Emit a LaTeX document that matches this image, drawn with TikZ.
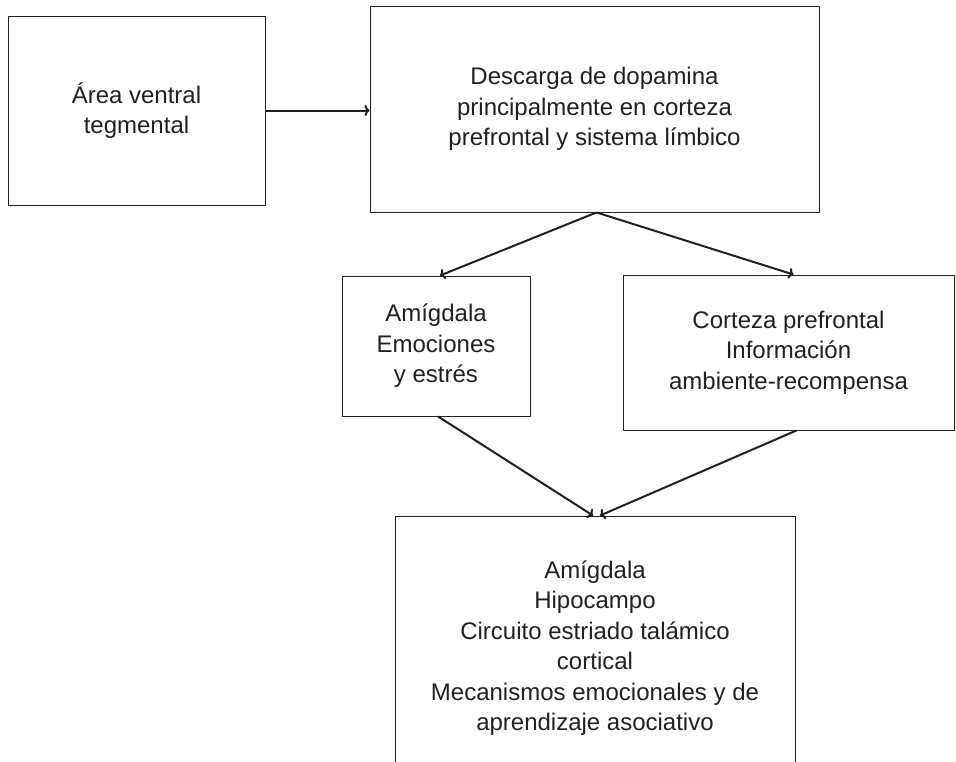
\documentclass[tikz,border=0pt]{standalone}
\usepackage{fontspec}
\usetikzlibrary{arrows.meta}
\setmainfont{Liberation Sans}
\definecolor{ink}{RGB}{35,31,32}
\begin{document}
\begin{tikzpicture}[x=1pt, y=-1pt, font=\fontsize{24}{30.5}\selectfont, line join=round, >={To[length=5pt,width=11pt]},
	caja/.style={draw=ink, line width=0.9pt, text=ink, align=center, inner sep=0pt},
	flecha/.style={->, draw=ink, line width=2pt}]
	\useasboundingbox (0,0) rectangle (956,761);
	\clip (0,0) rectangle (956,761);
	% cajas
	\node[caja, minimum width=257, minimum height=189] (vta) at (136.5,110.5) {Área ventral\\tegmental};
	\node[caja, minimum width=449, minimum height=206] (descarga) at (594.5,109) {Descarga de dopamina\\principalmente en corteza\\prefrontal y sistema límbico};
	\node[caja, minimum width=188, minimum height=140] (amigdala) at (436,346) {Amígdala\\Emociones\\y estrés};
	\node[caja, minimum width=331, minimum height=155] (corteza) at (788.5,352.5) {Corteza prefrontal\\Información\\ambiente-recompensa};
	\node[caja, minimum width=400, minimum height=264] (circuito) at (595,648) {Amígdala\\Hipocampo\\Circuito estriado talámico\\cortical\\Mecanismos emocionales y de\\aprendizaje asociativo};
	% flechas
	\draw[flecha] (vta.east) -- (vta.east -| descarga.west);
	\draw[flecha] ([xshift=2]descarga.south) -- ([xshift=4]amigdala.north);
	\draw[flecha] ([xshift=2]descarga.south) -- ([xshift=5]corteza.north);
	\draw[flecha] ([xshift=2]amigdala.south) -- ([xshift=-2]circuito.north);
	\draw[flecha] ([xshift=8]corteza.south) -- ([xshift=5]circuito.north);
\end{tikzpicture}
\end{document}
